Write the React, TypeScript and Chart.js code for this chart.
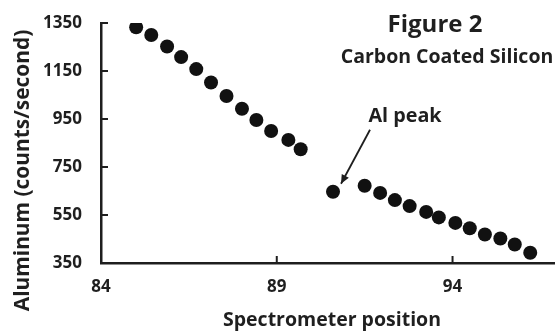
import React, { useEffect, useRef } from "react";
import { Chart, registerables } from "chart.js";

Chart.register(...registerables);

const positions = [
  85.0, 85.43, 85.88, 86.28, 86.71, 87.13, 87.57, 88.01, 88.42, 88.84, 89.33, 89.68,
  90.6, 91.5, 91.94, 92.36, 92.78, 93.25, 93.61, 94.08, 94.49, 94.92, 95.36, 95.77, 96.21,
];
const counts = [
  1332, 1300, 1252, 1208, 1158, 1102, 1046, 993, 946, 900, 863, 824,
  647, 672, 642, 612, 587, 563, 540, 517, 495, 469, 452, 427, 393,
];
const xTicks = [84, 89, 94];
const yTicks = [350, 550, 750, 950, 1150, 1350];
const xRange = [84, 97];
const yRange = [350, 1350];
const peakIndex = 12;
const titleText = "Figure 2";
const subtitleText = "Carbon Coated Silicon";
const peakLabel = "Al peak";
const xTitle = "Spectrometer position";
const yTitle = "Aluminum (counts/second)";

const FONT = "'Open Sans', Lato, sans-serif";
const TEXT = "#1f1f1f";
const AXIS = "#1e1e1e";

const overlayPlugin = {
  id: "overlay",
  afterDraw(chart: any) {
    const ctx = chart.ctx;
    const { chartArea } = chart;
    const xs = chart.scales.x;
    const ys = chart.scales.y;
    ctx.save();
    // inside tick marks
    ctx.strokeStyle = AXIS;
    ctx.lineWidth = 2;
    xTicks.forEach((v) => {
      const px = xs.getPixelForValue(v);
      ctx.beginPath();
      ctx.moveTo(px, chartArea.bottom);
      ctx.lineTo(px, chartArea.bottom - 7);
      ctx.stroke();
    });
    yTicks.forEach((v) => {
      const py = ys.getPixelForValue(v);
      ctx.beginPath();
      ctx.moveTo(chartArea.left, py);
      ctx.lineTo(chartArea.left + 7, py);
      ctx.stroke();
    });

    ctx.fillStyle = TEXT;
    ctx.textAlign = "center";
    ctx.textBaseline = "middle";
    ctx.font = `bold 24px ${FONT}`;
    ctx.fillText(titleText, 435, 25);
    ctx.font = `bold 19.5px ${FONT}`;
    ctx.fillText(subtitleText, 447, 57);

    // axis titles
    ctx.font = `bold 19.5px ${FONT}`;
    ctx.fillText(xTitle, 332, 320);
    ctx.save();
    ctx.translate(23, 170.5);
    ctx.rotate(-Math.PI / 2);
    ctx.font = `bold 20.9px ${FONT}`;
    ctx.fillText(yTitle, 0, 0);
    ctx.restore();

    // Al peak annotation
    const ppx = xs.getPixelForValue(positions[peakIndex]);
    const ppy = ys.getPixelForValue(counts[peakIndex]);
    ctx.font = `bold 19.8px ${FONT}`;
    ctx.fillText(peakLabel, ppx + 72, ppy - 75);
    const sx = ppx + 37, sy = ppy - 62;
    const ex = ppx + 8, ey = ppy - 8;
    ctx.strokeStyle = AXIS;
    ctx.lineWidth = 1.8;
    ctx.beginPath();
    ctx.moveTo(sx, sy);
    ctx.lineTo(ex, ey);
    ctx.stroke();
    const ang = Math.atan2(ey - sy, ex - sx);
    const L = 9, W = 4;
    ctx.fillStyle = AXIS;
    ctx.beginPath();
    ctx.moveTo(ex, ey);
    ctx.lineTo(ex - L * Math.cos(ang) + W * Math.sin(ang), ey - L * Math.sin(ang) - W * Math.cos(ang));
    ctx.lineTo(ex - L * Math.cos(ang) - W * Math.sin(ang), ey - L * Math.sin(ang) + W * Math.cos(ang));
    ctx.closePath();
    ctx.fill();
    ctx.restore();
  },
};

export default function App() {
  const ref = useRef<HTMLCanvasElement | null>(null);
  useEffect(() => {
    document.body.style.margin = "0";
    document.body.style.overflow = "hidden";
    const canvas = ref.current;
    if (!canvas) return;
    const chart = new Chart(canvas, {
      type: "scatter",
      data: {
        datasets: [
          {
            data: positions.map((x, i) => ({ x, y: counts[i] })),
            backgroundColor: "#111111",
            borderWidth: 0,
            pointRadius: 7,
            pointHoverRadius: 7,
          },
        ],
      },
      options: {
        responsive: false,
        animation: false,
        devicePixelRatio: 1,
        layout: { padding: { top: 23, right: 2, left: 0, bottom: 0 } },
        plugins: { legend: { display: false }, tooltip: { enabled: false } },
        scales: {
          x: {
            type: "linear",
            min: xRange[0],
            max: xRange[1],
            afterBuildTicks: (s: any) => {
              s.ticks = xTicks.map((v) => ({ value: v }));
            },
            afterFit: (s: any) => {
              s.height = 68;
              s.paddingLeft = 0;
              s.paddingRight = 0;
            },
            grid: { display: false, drawTicks: false },
            border: { display: true, color: AXIS, width: 2.5 },
            ticks: {
              padding: 14,
              color: TEXT,
              font: { family: FONT, size: 17, weight: "bold" },
              maxRotation: 0,
              callback: (v: any) => String(v),
            },
          },
          y: {
            type: "linear",
            min: yRange[0],
            max: yRange[1],
            afterBuildTicks: (s: any) => {
              s.ticks = yTicks.map((v) => ({ value: v }));
            },
            afterFit: (s: any) => {
              s.width = 101;
              s.paddingTop = 0;
              s.paddingBottom = 0;
            },
            grid: { display: false, drawTicks: false },
            border: { display: true, color: AXIS, width: 2.5 },
            ticks: {
              padding: 19,
              color: TEXT,
              font: { family: FONT, size: 17, weight: "bold" },
              callback: (v: any) => String(v),
            },
          },
        },
      },
      plugins: [overlayPlugin],
    });
    return () => chart.destroy();
  }, []);
  return (
    <div style={{ position: "absolute", left: 0, top: 0, width: 555, height: 331, overflow: "hidden", background: "#fff" }}>
      <canvas ref={ref} width={565} height={331} style={{ width: 565, height: 331, display: "block" }} />
    </div>
  );
}
